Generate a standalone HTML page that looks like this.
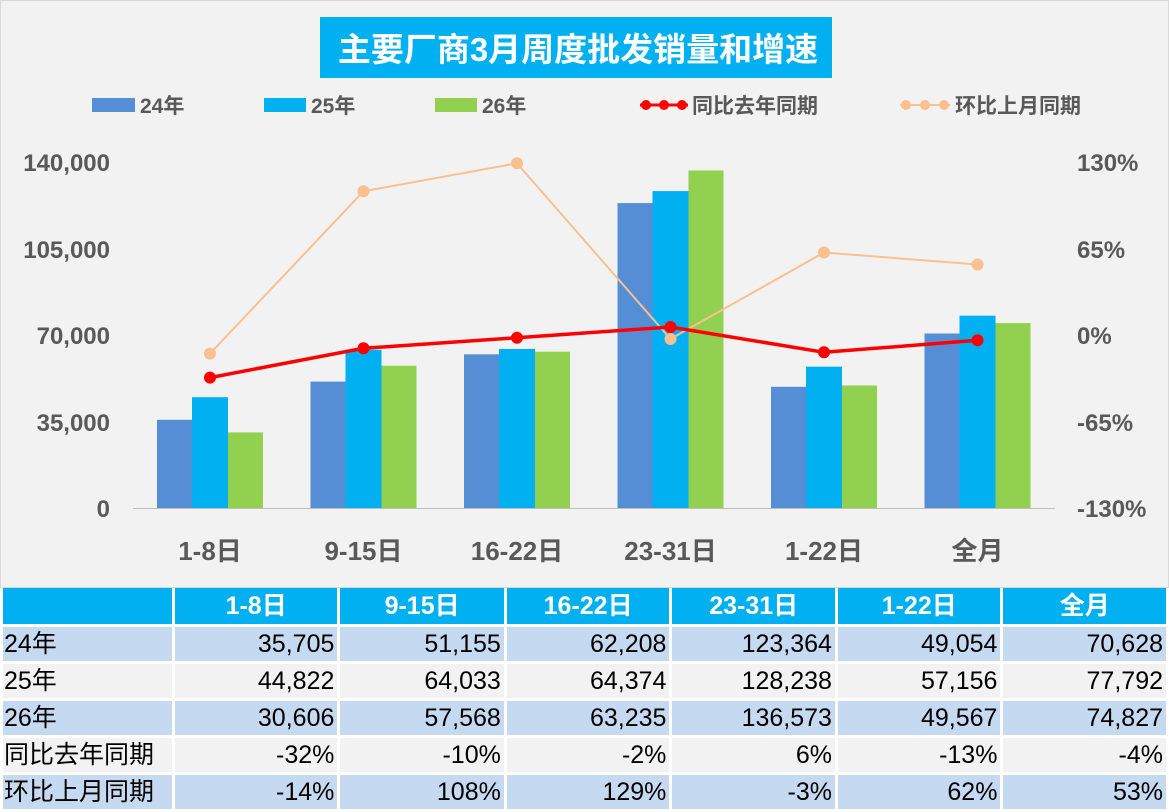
<!DOCTYPE html>
<html><head><meta charset="utf-8"><style>
body{margin:0;width:1169px;height:810px;background:#fff;overflow:hidden;font-family:"Liberation Sans","Noto Sans CJK SC",sans-serif}
.chart{position:absolute;left:0;top:0;width:1167px;height:586px;background:#f2f2f2;border:1px solid #d9d9d9}
table{position:absolute;left:0;top:588px;border-collapse:collapse;table-layout:fixed}
tr{height:37px}
td{height:37px;line-height:28px;padding:0 3px;font-size:25px;border:3px solid #fff;text-align:right;color:#000;box-sizing:border-box;white-space:nowrap;overflow:hidden;vertical-align:middle}
td:first-child{text-align:left;padding-left:1px}
tr.h td{background:#00b0f0;color:#fff;font-weight:bold;text-align:center;border-top:0}
tr.b td{background:#c5d9f1}
tr.g td{background:#f2f2f2}
</style></head><body>
<div class="chart"></div>
<svg width="1169" height="588" style="position:absolute;left:0;top:0" font-family="Liberation Sans,Noto Sans CJK SC,sans-serif">
<rect x="320" y="17" width="512" height="61" fill="#00b0f0"/>
<text x="578" y="61" text-anchor="middle" font-size="33" font-weight="bold" fill="#fff">主要厂商3月周度批发销量和增速</text>
<g font-size="21" font-weight="bold" fill="#595959">
<rect x="92" y="98" width="43" height="14" fill="#558ed5"/><text x="140" y="113">24年</text>
<rect x="264" y="98" width="42" height="14" fill="#00b0f0"/><text x="311" y="113">25年</text>
<rect x="435" y="98" width="42" height="14" fill="#92d050"/><text x="482" y="113">26年</text>
<line x1="640" y1="105" x2="688" y2="105" stroke="#ff0000" stroke-width="3"/><circle cx="646" cy="105" r="5" fill="#ff0000"/><circle cx="664" cy="105" r="5" fill="#ff0000"/><circle cx="682" cy="105" r="5" fill="#ff0000"/><text x="692" y="113">同比去年同期</text>
<line x1="900" y1="105" x2="950" y2="105" stroke="#fac090" stroke-width="2"/><circle cx="906" cy="105" r="5" fill="#fac090"/><circle cx="925" cy="105" r="5" fill="#fac090"/><circle cx="944" cy="105" r="5" fill="#fac090"/><text x="955" y="113">环比上月同期</text>
</g>
<g font-size="24" font-weight="bold" fill="#595959" text-anchor="end">
<text x="110" y="171">140,000</text><text x="110" y="258">105,000</text><text x="110" y="344">70,000</text><text x="110" y="431">35,000</text><text x="110" y="517">0</text>
</g>
<g font-size="24" font-weight="bold" fill="#595959" text-anchor="start">
<text x="1077" y="171">130%</text><text x="1077" y="258">65%</text><text x="1077" y="344">0%</text><text x="1077" y="431">-65%</text><text x="1077" y="517">-130%</text>
</g>
<line x1="133" y1="508.5" x2="1055" y2="508.5" stroke="#bfbfbf" stroke-width="1"/>
<g fill="#558ed5">
<rect x="157" y="419.8" width="35" height="88.2"/><rect x="310.5" y="381.6" width="35" height="126.4"/><rect x="464" y="354.3" width="35" height="153.7"/><rect x="617.5" y="203.1" width="35" height="304.9"/><rect x="771" y="386.8" width="35" height="121.2"/><rect x="924.5" y="333.5" width="35" height="174.5"/>
</g>
<g fill="#00b0f0">
<rect x="192" y="397.2" width="36" height="110.8"/><rect x="345.5" y="349.7" width="36" height="158.3"/><rect x="499" y="348.9" width="36" height="159.1"/><rect x="652.5" y="191.1" width="36" height="316.9"/><rect x="806" y="366.7" width="36" height="141.3"/><rect x="959.5" y="315.7" width="36" height="192.3"/>
</g>
<g fill="#92d050">
<rect x="228" y="432.4" width="35" height="75.6"/><rect x="381.5" y="365.7" width="35" height="142.3"/><rect x="535" y="351.7" width="35" height="156.3"/><rect x="688.5" y="170.5" width="35" height="337.5"/><rect x="842" y="385.5" width="35" height="122.5"/><rect x="995.5" y="323.1" width="35" height="184.9"/>
</g>
<polyline points="210,353.6 363.5,191.3 517,163.3 670.5,339 824,252.5 977.5,264.5" fill="none" stroke="#fac090" stroke-width="2"/>
<g fill="#fac090"><circle cx="210" cy="353.6" r="6"/><circle cx="363.5" cy="191.3" r="6"/><circle cx="517" cy="163.3" r="6"/><circle cx="670.5" cy="339" r="6"/><circle cx="824" cy="252.5" r="6"/><circle cx="977.5" cy="264.5" r="6"/></g>
<polyline points="210,377.6 363.5,348.3 517,337.7 670.5,327 824,352.3 977.5,340.3" fill="none" stroke="#ff0000" stroke-width="3.5"/>
<g fill="#ff0000"><circle cx="210" cy="377.6" r="6"/><circle cx="363.5" cy="348.3" r="6"/><circle cx="517" cy="337.7" r="6"/><circle cx="670.5" cy="327" r="6"/><circle cx="824" cy="352.3" r="6"/><circle cx="977.5" cy="340.3" r="6"/></g>
<g font-size="26" font-weight="bold" fill="#595959" text-anchor="middle">
<text x="210" y="560">1-8日</text><text x="363.5" y="560">9-15日</text><text x="517" y="560">16-22日</text><text x="670.5" y="560">23-31日</text><text x="824" y="560">1-22日</text><text x="977.5" y="560">全月</text>
</g>
</svg>
<table>
<colgroup><col style="width:172px"><col style="width:166px"><col style="width:167px"><col style="width:166px"><col style="width:166px"><col style="width:166px"><col style="width:166px"></colgroup>
<tr class="h"><td></td><td>1-8日</td><td>9-15日</td><td>16-22日</td><td>23-31日</td><td>1-22日</td><td>全月</td></tr>
<tr class="b"><td>24年</td><td>35,705</td><td>51,155</td><td>62,208</td><td>123,364</td><td>49,054</td><td>70,628</td></tr>
<tr class="g"><td>25年</td><td>44,822</td><td>64,033</td><td>64,374</td><td>128,238</td><td>57,156</td><td>77,792</td></tr>
<tr class="b"><td>26年</td><td>30,606</td><td>57,568</td><td>63,235</td><td>136,573</td><td>49,567</td><td>74,827</td></tr>
<tr class="g"><td>同比去年同期</td><td>-32%</td><td>-10%</td><td>-2%</td><td>6%</td><td>-13%</td><td>-4%</td></tr>
<tr class="b"><td>环比上月同期</td><td>-14%</td><td>108%</td><td>129%</td><td>-3%</td><td>62%</td><td>53%</td></tr>
</table>
</body></html>
